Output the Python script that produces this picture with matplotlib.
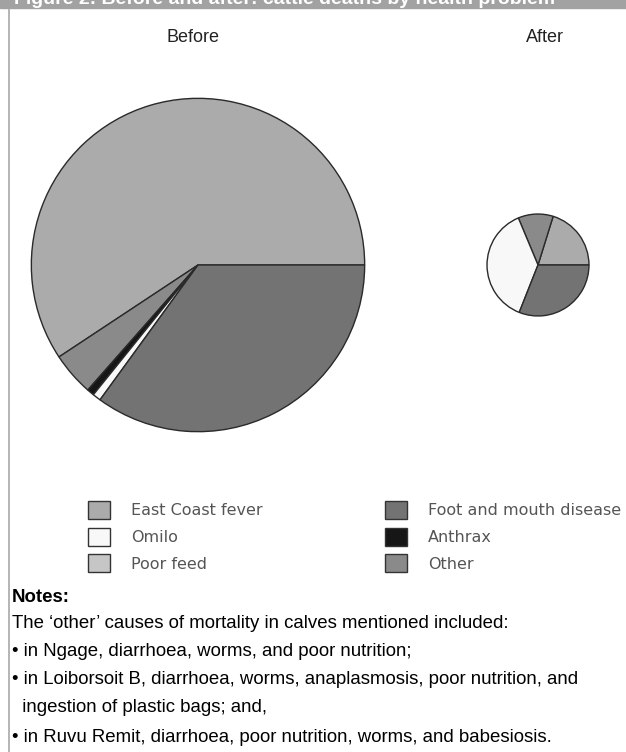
import matplotlib
matplotlib.use('Agg')
import matplotlib.pyplot as plt
from matplotlib.patches import Patch, Rectangle
from matplotlib.lines import Line2D

# causes of calf mortality (legend order)
causes = ['East Coast fever', 'Omilo', 'Poor feed', 'Foot and mouth disease', 'Anthrax', 'Other']
cause_colors = ['#ababab', '#f8f8f8', '#c6c6c6', '#737373', '#161616', '#8a8a8a']

# slices as drawn, counter-clockwise from 3 o'clock (% of deaths)
before_causes = ['East Coast fever', 'Other', 'Anthrax', 'Omilo', 'Foot and mouth disease']
before_values = [59.3, 4.2, 0.7, 0.8, 35.0]
after_causes = ['East Coast fever', 'Other', 'Omilo', 'Foot and mouth disease']
after_values = [20.2, 11.1, 37.7, 31.0]

notes_title = 'Notes:'
notes_lines = [
    'The \u2018other\u2019 causes of mortality in calves mentioned included:',
    '\u2022 in Ngage, diarrhoea, worms, and poor nutrition;',
    '\u2022 in Loiborsoit B, diarrhoea, worms, anaplasmosis, poor nutrition, and',
    '  ingestion of plastic bags; and,',
    '\u2022 in Ruvu Remit, diarrhoea, poor nutrition, worms, and babesiosis.',
]
title_text = 'Figure 2: Before and after: cattle deaths by health problem'

W, H = 626, 752
color_of = dict(zip(causes, cause_colors))
TEXT_FONT = ['Liberation Sans', 'DejaVu Sans']


def fx(px):
    return px / W


def fy(py):
    return 1 - py / H


fig = plt.figure(figsize=(W / 100, H / 100), dpi=100)

# header bar (its caption is cropped in the original too) and left rule
fig.patches.append(Rectangle((0, fy(8)), 1, 8 / H, transform=fig.transFigure,
                             color='#a2a2a2', zorder=0))
fig.text(fx(14), fy(4.5), title_text, color='white', fontsize=14, fontweight='bold',
         family=TEXT_FONT, va='baseline', ha='left')
fig.add_artist(Line2D([fx(8.5), fx(8.5)], [0, fy(9)], color='#a8a8a8', lw=1.2))


def draw_pie(cx, cy, r, labels, values, title, title_x):
    ax = fig.add_axes([fx(cx - r), fy(cy + r), 2 * r / W, 2 * r / H])
    ax.pie(values, colors=[color_of[c] for c in labels], startangle=0,
           counterclock=True, radius=1,
           wedgeprops=dict(edgecolor='#2a2a2a', linewidth=1.0))
    ax.set_xlim(-1.02, 1.02)
    ax.set_ylim(-1.02, 1.02)
    ax.axis('off')
    fig.text(fx(title_x), fy(37), title, ha='center', va='center', fontsize=13,
             family='Liberation Sans', color='#222222')


draw_pie(198, 265, 170, before_causes, before_values, 'Before', 193)
draw_pie(538, 265, 52, after_causes, after_values, 'After', 545)

# legend in two columns
handles = [Patch(facecolor=c, edgecolor='#333333', linewidth=1.0) for c in cause_colors]
for i, x0 in enumerate([88, 385]):
    fig.legend(handles[3 * i:3 * i + 3], causes[3 * i:3 * i + 3], loc='upper left',
               bbox_to_anchor=(fx(x0), fy(501)), frameon=False,
               prop={'family': 'DejaVu Sans', 'size': 11.5},
               handlelength=1.35, handleheight=1.35, handletextpad=1.35,
               labelspacing=0.55, borderpad=0, borderaxespad=0,
               labelcolor='#555555')

fig.text(fx(12), fy(597), notes_title, fontsize=13.4, fontweight='bold',
         family=TEXT_FONT, va='center', ha='left')
line_y = [624, 652, 680, 708, 738]
for y, line in zip(line_y, notes_lines):
    fig.text(fx(12), fy(y), line, fontsize=13.4, family=TEXT_FONT,
             va='center', ha='left')

fig.savefig('out.png', dpi=100)
